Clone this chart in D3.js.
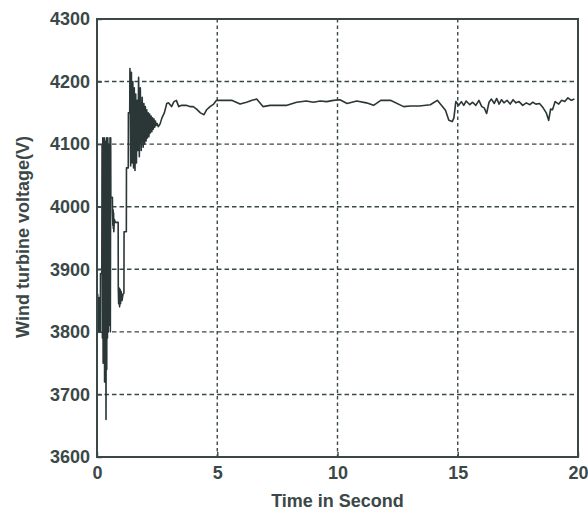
<!DOCTYPE html>
<html>
<head>
<meta charset="utf-8">
<script src="https://cdn.jsdelivr.net/npm/d3@7"></script>
<style>
  html, body { margin: 0; padding: 0; background: #ffffff; }
  svg { display: block; }
  text { font-family: "Liberation Sans", Arial, sans-serif; font-weight: bold; fill: #3b4848; }
</style>
</head>
<body>
<svg id="chart" width="588" height="514"></svg>
<script>
// Simulation time (s)
const time = [
  0.00, 0.01, 0.02, 0.03, 0.04, 0.05, 0.06, 0.07, 0.08, 0.09, 0.10, 0.14,
  0.145, 0.20, 0.21, 0.225, 0.24, 0.255, 0.27, 0.285, 0.30, 0.315, 0.33,
  0.345, 0.36, 0.375, 0.39, 0.405, 0.42, 0.435, 0.45, 0.465, 0.48, 0.495,
  0.51, 0.525, 0.54, 0.555, 0.57, 0.575, 0.64, 0.645, 0.66, 0.67, 0.68,
  0.69, 0.70, 0.72, 0.76, 0.88, 0.885, 0.90, 0.92, 0.94, 0.96, 0.98, 1.00,
  1.04, 1.08, 1.12, 1.125, 1.22, 1.225, 1.30, 1.305, 1.36, 1.37, 1.40,
  1.43, 1.46, 1.49, 1.52, 1.55, 1.58, 1.61, 1.64, 1.67, 1.70, 1.73, 1.76,
  1.80, 1.84, 1.88, 1.92, 1.95, 1.98, 2.01, 2.04, 2.07, 2.10, 2.13, 2.16,
  2.19, 2.22, 2.25, 2.28, 2.31, 2.34, 2.37, 2.40, 2.43, 2.46, 2.50, 2.55,
  2.62, 2.70, 2.80, 2.90, 2.97, 3.10, 3.20, 3.30, 3.40, 3.52, 3.70, 3.86,
  4.00, 4.14, 4.30, 4.45, 4.56, 4.70, 4.85, 4.97, 5.18, 5.60, 5.95, 6.22,
  6.45, 6.64, 6.90, 7.20, 7.47, 7.90, 8.30, 8.70, 9.00, 9.28, 9.55, 9.83,
  10.10, 10.40, 10.80, 11.20, 11.50, 11.80, 12.20, 12.75, 13.03, 13.40,
  13.86, 14.15, 14.49, 14.63, 14.77, 14.84, 14.92, 15.04, 15.15, 15.25,
  15.35, 15.50, 15.62, 15.75, 15.88, 16.00, 16.10, 16.20, 16.30, 16.40,
  16.52, 16.62, 16.72, 16.82, 16.92, 17.05, 17.18, 17.30, 17.42, 17.55,
  17.70, 17.85, 18.00, 18.12, 18.25, 18.40, 18.55, 18.68, 18.78, 18.86,
  18.94, 19.05, 19.20, 19.32, 19.45, 19.58, 19.72, 19.85, 20.00
];

// Wind turbine terminal voltage (V)
const voltage = [
  3830, 3855, 3805, 3860, 3800, 3855, 3810, 3850, 3815, 3855, 3800, 3800,
  3893, 3893, 4100, 3790, 4110, 3750, 4105, 3800, 4110, 3720, 4100,
  3780, 4105, 3660, 4110, 3740, 4100, 3790, 4110, 3800, 4090, 3810,
  4100, 3820, 4110, 3800, 4110, 4015, 4015, 3990, 3970, 3995, 3965,
  3990, 3960, 3980, 3975, 3975, 3870, 3845, 3870, 3840, 3868, 3845, 3865,
  3850, 3860, 3862, 3960, 3960, 4062, 4062, 4150, 4150, 4221, 4065,
  4215, 4070, 4200, 4062, 4190, 4058, 4180, 4070, 4170, 4090, 4207, 4080,
  4190, 4090, 4175, 4095, 4165, 4100, 4160, 4105, 4155, 4110, 4150, 4112,
  4148, 4118, 4145, 4120, 4142, 4124, 4140, 4127, 4137, 4130, 4133, 4128,
  4132, 4142, 4150, 4165, 4166, 4160, 4168, 4170, 4160, 4162, 4162, 4160,
  4160, 4156, 4150, 4147, 4155, 4160, 4164, 4170, 4170, 4170, 4164,
  4167, 4170, 4172, 4160, 4162, 4162, 4162, 4167, 4169, 4167, 4169, 4168,
  4170, 4171, 4165, 4169, 4166, 4162, 4170, 4170, 4160, 4161,
  4161, 4163, 4170, 4154, 4138, 4136, 4142, 4168, 4162, 4168,
  4162, 4169, 4163, 4167, 4162, 4170, 4160, 4158, 4149, 4167,
  4172, 4165, 4173, 4164, 4171, 4166, 4170, 4164, 4171, 4166,
  4168, 4162, 4166, 4163, 4167, 4164, 4165, 4158, 4150, 4138,
  4156, 4155, 4168, 4164, 4170, 4168, 4174, 4170, 4172
];

const xTicks = [0, 5, 10, 15, 20];
const yTicks = [3600, 3700, 3800, 3900, 4000, 4100, 4200, 4300];

const xLabel = "Time in Second";
const yLabel = "Wind turbine voltage(V)";

const data = time.map((t, i) => ({ t, v: voltage[i] }));

const margin = { left: 97, top: 19, right: 10, bottom: 57 };
const width = 588, height = 514;
const plotW = width - margin.left - margin.right;
const plotH = height - margin.top - margin.bottom;

const ink = "#3b4848";

const svg = d3.select("#chart");
const g = svg.append("g").attr("transform", `translate(${margin.left},${margin.top})`);

const x = d3.scaleLinear().domain([0, 20]).range([0, plotW]);
const y = d3.scaleLinear().domain([3600, 4300]).range([plotH, 0]);

// grid lines
g.append("g")
  .selectAll("line")
  .data(yTicks.slice(1, -1))
  .join("line")
  .attr("x1", 0).attr("x2", plotW)
  .attr("y1", d => y(d)).attr("y2", d => y(d))
  .attr("stroke", ink).attr("stroke-width", 1.4)
  .attr("stroke-dasharray", "4.5,3");

g.append("g")
  .selectAll("line")
  .data(xTicks.slice(1, -1))
  .join("line")
  .attr("y1", 0).attr("y2", plotH)
  .attr("x1", d => x(d)).attr("x2", d => x(d))
  .attr("stroke", ink).attr("stroke-width", 1.4)
  .attr("stroke-dasharray", "3.5,3");

// voltage trace
const line = d3.line().x(d => x(d.t)).y(d => y(d.v));
g.append("path")
  .datum(data)
  .attr("d", line)
  .attr("fill", "none")
  .attr("stroke", "#2b3636")
  .attr("stroke-width", 1.6)
  .attr("stroke-linejoin", "round");

// axes
const xAxis = d3.axisBottom(x).tickValues(xTicks).tickFormat(d3.format("d")).tickSize(-5).tickPadding(9);
const yAxis = d3.axisLeft(y).tickValues(yTicks).tickFormat(d3.format("d")).tickSize(-5).tickPadding(7);

const gx = g.append("g").attr("transform", `translate(0,${plotH})`).call(xAxis);
const gy = g.append("g").call(yAxis);

[gx, gy].forEach(a => {
  a.select(".domain").remove();
  a.selectAll(".tick line").attr("stroke", ink).attr("stroke-width", 1.4);
  a.selectAll(".tick text").attr("fill", ink).style("font-size", "18px").style("font-weight", "bold");
});

// plot frame
g.append("rect")
  .attr("x", 0).attr("y", 0)
  .attr("width", plotW).attr("height", plotH)
  .attr("fill", "none")
  .attr("stroke", ink).attr("stroke-width", 2);

// axis titles
svg.append("text")
  .attr("x", margin.left + plotW / 2)
  .attr("y", 507)
  .attr("text-anchor", "middle")
  .style("font-size", "18px")
  .text(xLabel);

svg.append("text")
  .attr("transform", `translate(29,${237}) rotate(-90)`)
  .attr("text-anchor", "middle")
  .style("font-size", "18px")
  .text(yLabel);
</script>
</body>
</html>
